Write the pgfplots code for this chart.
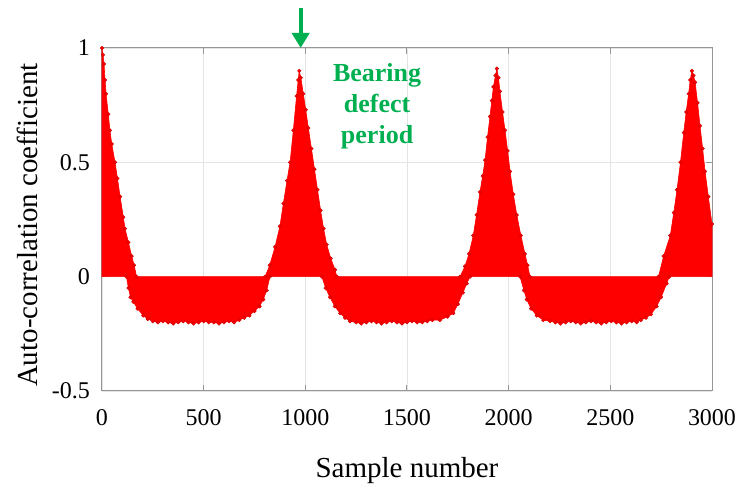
\documentclass[border=0pt]{standalone}
\usepackage{fontspec}
\setmainfont{Liberation Serif}
\usepackage{pgfplots}
\pgfplotsset{compat=1.18}
\usetikzlibrary{arrows.meta}
\definecolor{axgray}{RGB}{150,150,150}
\definecolor{gridgray}{RGB}{228,228,228}
\definecolor{mgreen}{RGB}{0,176,80}

\begin{document}
\begin{tikzpicture}
\begin{axis}[
    at={(0,0)}, anchor=south west,
    scale only axis,
    width=610pt, height=343pt,
    xmin=0, xmax=3000,
    ymin=-0.5, ymax=1,
    xtick={0,500,...,3000},
    ytick={-0.5,0,0.5,1},
    scaled x ticks=false,
    /pgf/number format/1000 sep={},
    /pgf/number format/assume math mode=true,
    grid=major,
    major grid style={gridgray, line width=0.8pt},
    axis line style={axgray, line width=1pt},
    tick style={axgray, line width=1pt},
    tick align=inside,
    major tick length=6pt,
    ticklabel style={font=\fontsize{24}{28}\selectfont},
    xticklabel style={anchor=north, inner sep=0pt, yshift=-18pt},
    yticklabel style={anchor=east, inner sep=0pt, xshift=-12pt},
    xlabel={Sample number},
    ylabel={Auto-correlation coefficient},
    label style={font=\fontsize{29}{34}\selectfont},
    xlabel style={at={(axis description cs:0.5,-0.233)}, anchor=center},
    ylabel style={at={(axis description cs:-0.123,0.484)}, anchor=center},
    clip=false,
    acf/.style={draw=red, fill=red, line width=0.6pt,
        mark=*, mark size=1.8pt, mark options={fill=red, draw=red!80!black, line width=0.4pt}},
]

% peak at lag 0
\addplot[acf] coordinates {
(0,1.00)(5,0.97)(10,0.93)(15,0.86)(20,0.80)(31,0.71)(39,0.64)(48,0.58)(64,0.50)
(76,0.43)(89,0.35)(105,0.26)(113,0.21)(130,0.15)(146,0.09)(158,0.05)(170,0)
} \closedcycle;
% trough 1
\addplot[acf] coordinates {
(120,0)(130,-0.05)(140,-0.09)(154,-0.11)(175,-0.14)(203,-0.17)(225,-0.185)(250,-0.195)
(275,-0.20)(300,-0.195)(325,-0.20)(350,-0.205)(375,-0.20)(400,-0.195)(425,-0.20)
(450,-0.205)(475,-0.20)(500,-0.195)(525,-0.20)(550,-0.20)(575,-0.205)(600,-0.20)
(625,-0.195)(650,-0.20)(675,-0.19)(700,-0.18)(725,-0.17)(750,-0.15)(775,-0.13)
(793,-0.10)(810,-0.06)(826,0)
} \closedcycle;
% peak 2
\addplot[acf] coordinates {
(802,0)(825,0.05)(851,0.13)(875,0.22)(892,0.32)(910,0.42)(925,0.50)(941,0.64)
(957,0.79)(965,0.86)(970,0.90)(978,0.87)(990,0.80)(1002,0.73)(1015,0.65)(1030,0.56)
(1045,0.47)(1060,0.38)(1075,0.29)(1090,0.21)(1105,0.14)(1125,0.08)(1146,0.03)(1155,0)
} \closedcycle;
% trough 2
\addplot[acf] coordinates {
(1081,0)(1100,-0.05)(1121,-0.09)(1145,-0.13)(1171,-0.16)(1195,-0.18)(1220,-0.195)
(1250,-0.20)(1275,-0.205)(1300,-0.20)(1325,-0.195)(1350,-0.20)(1375,-0.205)(1400,-0.20)
(1425,-0.195)(1450,-0.20)(1475,-0.205)(1500,-0.20)(1525,-0.195)(1550,-0.20)(1575,-0.20)
(1600,-0.195)(1625,-0.19)(1662,-0.19)(1700,-0.175)(1728,-0.16)(1750,-0.12)(1775,-0.07)
(1794,-0.03)(1810,0)
} \closedcycle;
% peak 3
\addplot[acf] coordinates {
(1761,0)(1785,0.045)(1805,0.10)(1826,0.18)(1842,0.27)(1859,0.37)(1872,0.44)(1884,0.51)
(1896,0.61)(1908,0.70)(1917,0.77)(1925,0.83)(1935,0.88)(1942,0.91)(1950,0.87)(1957,0.81)
(1970,0.72)(1982,0.64)(1995,0.55)(2007,0.46)(2023,0.36)(2040,0.27)(2060,0.18)(2080,0.10)
(2093,0.05)(2105,0)
} \closedcycle;
% trough 3
\addplot[acf] coordinates {
(2056,0)(2075,-0.06)(2089,-0.10)(2110,-0.14)(2138,-0.17)(2170,-0.19)(2204,-0.195)
(2230,-0.20)(2255,-0.205)(2280,-0.20)(2305,-0.195)(2330,-0.20)(2355,-0.205)(2380,-0.20)
(2405,-0.195)(2430,-0.20)(2455,-0.205)(2480,-0.20)(2505,-0.195)(2530,-0.20)(2555,-0.205)
(2580,-0.20)(2605,-0.195)(2630,-0.20)(2650,-0.19)(2675,-0.18)(2700,-0.165)(2728,-0.13)
(2750,-0.09)(2777,-0.03)(2790,0)
} \closedcycle;
% peak 4
\addplot[acf] coordinates {
(2737,0)(2762,0.09)(2795,0.18)(2812,0.28)(2828,0.38)(2845,0.50)(2861,0.63)(2873,0.72)
(2885,0.80)(2893,0.86)(2901,0.90)(2909,0.88)(2917,0.85)(2929,0.76)(2941,0.66)(2954,0.56)
(2966,0.46)(2982,0.35)(3000,0.23)
} \closedcycle;

\draw[mgreen, line width=4pt, -{Triangle[width=17pt,length=15pt]}]
    (axis cs:977,1.175) -- (axis cs:977,1.0);
\node[text=mgreen, font=\bfseries\fontsize{26}{31}\selectfont, align=center]
    at (axis cs:1353,0.747) {Bearing\\defect\\period};
\end{axis}
\path[use as bounding box] (-102pt,-95pt) rectangle (638pt,391pt);
\end{tikzpicture}
\end{document}
